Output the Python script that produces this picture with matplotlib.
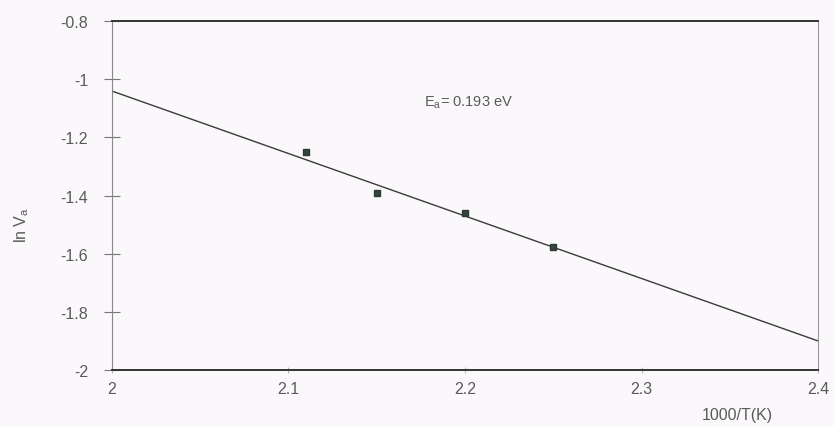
import numpy as np
import matplotlib
matplotlib.use("Agg")
import matplotlib.pyplot as plt

plt.rcParams["font.family"] = ["Liberation Sans", "DejaVu Sans"]

# measured points (1000/T, ln Va)
inv_t = [2.11, 2.15, 2.20, 2.25]
ln_va = [-1.25, -1.39, -1.46, -1.575]

# fitted line end points
fit_x = [2.0, 2.4]
fit_y = [-1.04, -1.90]

xticks = [2.0, 2.1, 2.2, 2.3, 2.4]
xticklabels = ["2", "2.1", "2.2", "2.3", "2.4"]
yticks = [-2.0, -1.8, -1.6, -1.4, -1.2, -1.0, -0.8]
yticklabels = ["-2", "-1.8", "-1.6", "-1.4", "-1.2", "-1", "-0.8"]

bg = "#fbf8fb"
txt = "#5a5a5a"

fig = plt.figure(figsize=(8.34, 4.27), dpi=100, facecolor=bg)
ax = fig.add_axes([0.134, 0.131, 0.847, 0.817])
ax.set_facecolor(bg)

ax.plot(fit_x, fit_y, color="#3a3a3a", lw=1.0)
ax.plot(inv_t, ln_va, ls="none", marker="s", ms=5, color="#34463c",
        markeredgecolor="#2a3a32")

ax.set_xlim(2.0, 2.4)
ax.set_ylim(-2.0, -0.8)
ax.set_xticks(xticks)
ax.set_xticklabels(xticklabels)
ax.set_yticks(yticks)
ax.set_yticklabels(yticklabels)

ax.tick_params(axis="y", direction="inout", length=12, width=0.8,
               color="#777777", labelcolor=txt, labelsize=11.5, pad=11)
ax.tick_params(axis="x", direction="inout", length=4, width=0.6,
               color="#aaaaaa", labelcolor=txt, labelsize=11.5, pad=6)

ax.spines["top"].set_color("#333333")
ax.spines["top"].set_linewidth(1.4)
ax.spines["bottom"].set_color("#333333")
ax.spines["bottom"].set_linewidth(1.4)
ax.spines["left"].set_color("#888888")
ax.spines["left"].set_linewidth(0.8)
ax.spines["right"].set_color("#999999")
ax.spines["right"].set_linewidth(0.8)

ax.text(2.177, -1.078, r"E$_\mathregular{a}$= 0.193 eV", fontsize=10.5,
        color=txt, va="center", ha="left")

ax.set_ylabel(r"ln V$_\mathregular{a}$", fontsize=11.5, color=txt)
ax.yaxis.set_label_coords(-0.115, 0.42)
ax.set_xlabel("1000/T(K)", fontsize=11.5, color=txt)
ax.xaxis.set_label_coords(0.886, -0.105)

fig.savefig("out.png", dpi=100, facecolor=bg)
